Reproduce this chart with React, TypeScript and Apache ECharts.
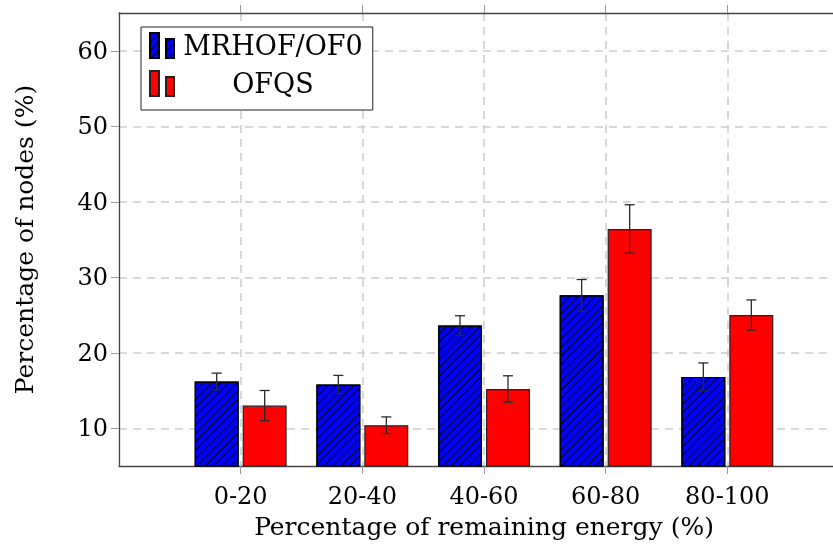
import React, { useEffect, useRef } from "react";
import * as echarts from "echarts";

const categories = ["0-20", "20-40", "40-60", "60-80", "80-100"];
const seriesNames = ["MRHOF/OF0", "OFQS"];
const mrhofValues = [16.2, 15.8, 23.6, 27.6, 16.8];
const mrhofErrors = [1.1, 1.2, 1.3, 2.1, 1.85];
const ofqsValues = [13.0, 10.4, 15.2, 36.4, 25.0];
const ofqsErrors = [2.0, 1.1, 1.75, 3.2, 2.0];
const yTicks = [10, 20, 30, 40, 50, 60];
const xTicks = categories.map((_, i) => i);

const FONT = "DejaVu Serif";

function errorSeries(values: number[], errors: number[], offset: number) {
  return {
    type: "custom",
    xAxisIndex: 0,
    yAxisIndex: 0,
    z: 5,
    silent: true,
    data: values.map((v, i) => [i, v - errors[i], v + errors[i]]),
    renderItem: (_params: any, api: any) => {
      const x = api.value(0);
      const lo = api.coord([x, api.value(1)]);
      const hi = api.coord([x, api.value(2)]);
      const cx = lo[0] + offset;
      const style = { stroke: "#2a2a2a", lineWidth: 1.3 };
      const cap = 5;
      return {
        type: "group",
        children: [
          { type: "line", shape: { x1: cx, y1: lo[1], x2: cx, y2: hi[1] }, style },
          { type: "line", shape: { x1: cx - cap, y1: lo[1], x2: cx + cap, y2: lo[1] }, style },
          { type: "line", shape: { x1: cx - cap, y1: hi[1], x2: cx + cap, y2: hi[1] }, style },
        ],
      };
    },
  };
}

export default function App() {
  const ref = useRef<HTMLDivElement>(null);
  useEffect(() => {
    const chart = echarts.init(ref.current!, null, { renderer: "svg" });
    const hatch = {
      symbol: "rect",
      symbolSize: 1,
      color: "#000",
      dashArrayX: [1, 0],
      dashArrayY: [1, 4.5],
      rotation: -Math.PI / 4,
    };
    const option: any = {
      animation: false,
      grid: { left: 119, top: 13, width: 730, height: 453 },
      legend: {
        data: seriesNames,
        orient: "vertical",
        left: 141,
        top: 27,
        backgroundColor: "#fff",
        borderColor: "#222",
        borderWidth: 1,
        padding: [5, 10, 13, 8],
        itemGap: 11,
        itemWidth: 24,
        itemHeight: 25,
        icon: "path://M0 0H9V25H0Z M16 6H24V25H16Z",
        formatter: "{a|{name}}",
        textStyle: {
          fontFamily: FONT,
          fontSize: 27,
          color: "#000",
          rich: { a: { width: 188, align: "center", fontFamily: FONT, fontSize: 27, color: "#000" } },
        },
      },
      xAxis: [
        {
          type: "value",
          min: -1,
          max: 5,
          interval: 1,
          position: "bottom",
          name: "Percentage of remaining energy (%)",
          nameLocation: "middle",
          nameGap: 48,
          nameTextStyle: { fontFamily: FONT, fontSize: 25, color: "#000" },
          axisLine: { show: true, onZero: false, lineStyle: { color: "#444", width: 1.3 } },
          axisTick: { show: true, inside: false, length: 8, lineStyle: { color: "#999" }, customValues: xTicks },
          axisLabel: {
            margin: 18,
            fontFamily: FONT,
            fontSize: 24,
            color: "#000",
            customValues: xTicks,
            formatter: (v: number) => categories[v] ?? "",
          },
          splitLine: { show: true, lineStyle: { color: "#ccc", width: 1.5, type: [8, 6] } },
        },
        {
          type: "value",
          min: -1,
          max: 5,
          interval: 1,
          position: "top",
          axisLine: { show: true, onZero: false, lineStyle: { color: "#444", width: 1.3 } },
          axisTick: { show: true, inside: false, length: 8, lineStyle: { color: "#999" }, customValues: xTicks },
          axisLabel: { show: false },
          splitLine: { show: false },
        },
      ],
      yAxis: {
        type: "value",
        min: 5,
        max: 65,
        name: "Percentage of nodes (%)",
        nameLocation: "middle",
        nameRotate: 90,
        nameGap: 82,
        nameTextStyle: { fontFamily: FONT, fontSize: 25, color: "#000" },
        axisLine: { show: true, onZero: false, lineStyle: { color: "#444", width: 1.3 } },
        axisTick: { show: true, inside: false, length: 8, lineStyle: { color: "#999" }, customValues: yTicks },
        axisLabel: { margin: 11, fontFamily: FONT, fontSize: 24, color: "#000", customValues: yTicks },
        splitLine: { show: true, lineStyle: { color: "#ccc", width: 1.5, type: [8, 6] } },
      },
      series: [
        {
          name: seriesNames[0],
          type: "bar",
          barWidth: 44,
          barGap: "9%",
          data: mrhofValues.map((v, i) => [i, v]),
          itemStyle: { color: "#0000ff", borderColor: "#000", borderWidth: 1.2, decal: hatch },
        },
        {
          name: seriesNames[1],
          type: "bar",
          barWidth: 44,
          barGap: "9%",
          data: ofqsValues.map((v, i) => [i, v]),
          itemStyle: { color: "#ff0000", borderColor: "#222", borderWidth: 1.2 },
        },
        errorSeries(mrhofValues, mrhofErrors, -24),
        errorSeries(ofqsValues, ofqsErrors, 24),
      ],
    };
    chart.setOption(option);
    return () => chart.dispose();
  }, []);
  return <div ref={ref} style={{ position: "fixed", left: 0, top: 0, width: 849, height: 549 }} />;
}
